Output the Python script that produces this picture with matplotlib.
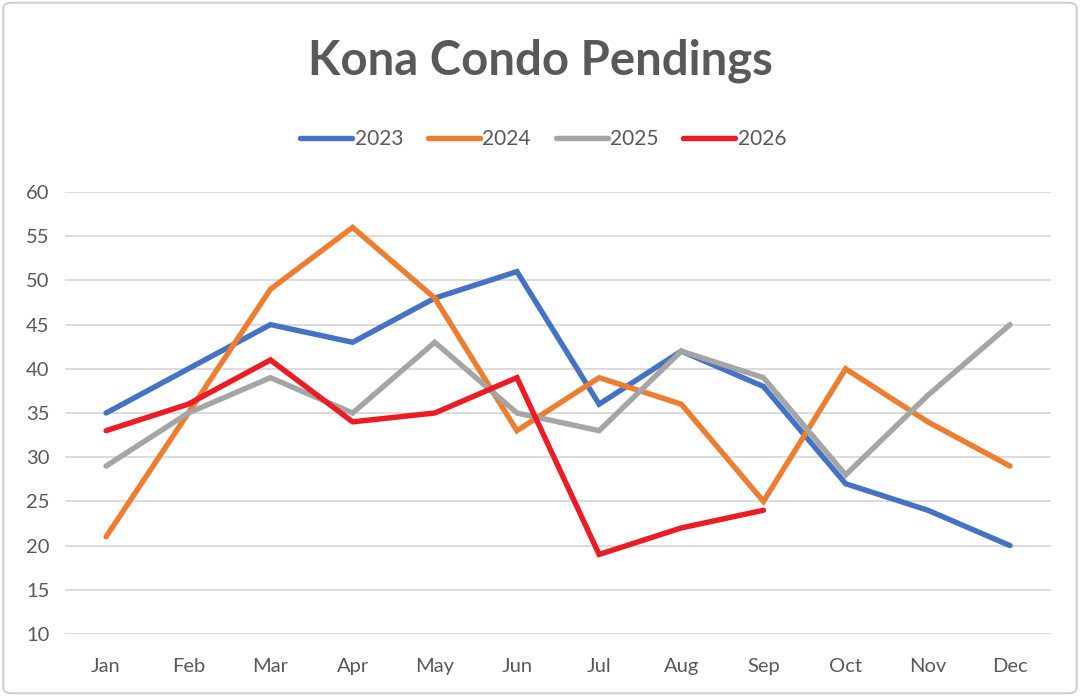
import numpy as np
import matplotlib
matplotlib.use("Agg")
import matplotlib.pyplot as plt
from matplotlib.patches import FancyBboxPatch

plt.rcParams['font.family'] = ['Lato', 'DejaVu Sans']

# data
months = ['Jan', 'Feb', 'Mar', 'Apr', 'May', 'Jun', 'Jul', 'Aug', 'Sep', 'Oct', 'Nov', 'Dec']
y2023 = [35, 40, 45, 43, 48, 51, 36, 42, 38, 27, 24, 20]
y2024 = [21, 35, 49, 56, 48, 33, 39, 36, 25, 40, 34, 29]
y2025 = [29, 35, 39, 35, 43, 35, 33, 42, 39, 28, 37, 45]
y2026 = [33, 36, 41, 34, 35, 39, 19, 22, 24]

series = [('2023', y2023, '#4472C4'),
          ('2024', y2024, '#ED7D31'),
          ('2025', y2025, '#A5A5A5'),
          ('2026', y2026, '#EC1C24')]

txt = '#595959'

fig = plt.figure(figsize=(10.8, 6.96), dpi=100)
ax = fig.add_axes([0.0602, 0.0891, 0.9130, 0.6350])

# rounded frame around the whole chart
fig.patches.append(FancyBboxPatch((0.003, 0.004), 0.994, 0.992,
                                  boxstyle='round,pad=0,rounding_size=0.008',
                                  transform=fig.transFigure, fill=False,
                                  edgecolor='#D0D0D0', linewidth=1.5))

x = np.arange(len(months))
for name, vals, col in series:
    ax.plot(x[:len(vals)], vals, color=col, lw=3.9, label=name,
            solid_joinstyle='miter', solid_capstyle='round')

ax.set_xlim(-0.5, 11.5)
ax.set_ylim(10, 60)
ax.set_yticks(range(10, 61, 5))
ax.set_xticks(x)
ax.set_xticklabels(months)
ax.grid(axis='y', color='#D9D9D9', lw=1.3)
ax.set_axisbelow(True)
for s in ax.spines.values():
    s.set_visible(False)
ax.tick_params(length=0, labelsize=14.5, colors=txt)
ax.tick_params(axis='x', pad=17)
ax.tick_params(axis='y', pad=11)

fig.text(0.5, 0.913, 'Kona Condo Pendings', ha='center', va='center',
         fontsize=34, fontweight='bold', color=txt)

fig.legend(loc='center', bbox_to_anchor=(0.503, 0.8), ncol=4, frameon=False,
           fontsize=15, labelcolor=txt, handlelength=2.5, handletextpad=0.1,
           columnspacing=1.2)

fig.savefig('out.png', dpi=100)
